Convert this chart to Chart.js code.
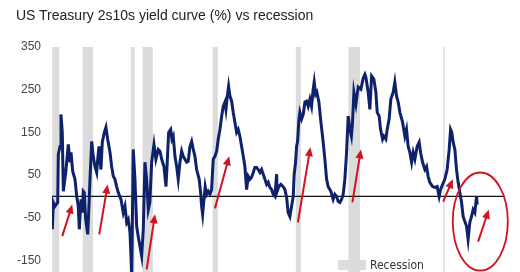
<!DOCTYPE html>
<html>
<head>
<meta charset="utf-8">
<script src="https://cdn.jsdelivr.net/npm/chart.js@4.4.1/dist/chart.umd.min.js"></script>
<style>
  body { margin: 0; overflow: hidden; background: #fff; }
  #wrap { position: relative; width: 520px; height: 300px; }
  #sub { position: absolute; left: 16px; top: 6px; font: 14px "Liberation Sans", Arial, sans-serif; color: #222; line-height: 18px; white-space: nowrap; }
</style>
</head>
<body>
<div id="wrap">
  <canvas id="myChart"></canvas>
  <div id="sub">US Treasury 2s10s yield curve (%) vs recession</div>
</div>
<script>
// 2s10s spread (bp), by decimal year
const years = [
  1969.94, 1970.07, 1970.28, 1970.63, 1970.71, 1970.93, 1971.05, 1971.22, 1971.35, 1971.66,
  1971.99, 1972.21, 1972.34, 1972.55, 1972.85, 1973.07, 1973.27, 1973.40, 1973.62, 1973.78,
  1973.91, 1974.04, 1974.22, 1974.48, 1974.64, 1974.77, 1974.99, 1975.19, 1975.41, 1975.63,
  1975.76, 1975.93, 1976.18, 1976.35, 1976.61, 1976.82, 1977.04, 1977.34, 1977.55, 1977.76,
  1977.98, 1978.19, 1978.40, 1978.75, 1979.04, 1979.26, 1979.48, 1979.68, 1979.90, 1980.03,
  1980.12, 1980.32, 1980.54, 1980.76, 1980.96, 1981.18, 1981.40, 1981.61, 1981.82, 1982.04,
  1982.25, 1982.45, 1982.68, 1982.98, 1983.23, 1983.53, 1983.75, 1983.97, 1984.26, 1984.52,
  1984.68, 1984.86, 1985.12, 1985.28, 1985.45, 1985.67, 1985.89, 1986.09, 1986.31, 1986.53,
  1986.73, 1986.95, 1987.17, 1987.37, 1987.59, 1987.81, 1988.02, 1988.23, 1988.45, 1988.78,
  1988.96, 1989.09, 1989.22, 1989.39, 1989.55, 1989.73, 1989.94, 1990.16, 1990.37, 1990.58,
  1990.80, 1991.02, 1991.22, 1991.44, 1991.66, 1991.86, 1992.08, 1992.21, 1992.37, 1992.55,
  1992.72, 1992.94, 1993.14, 1993.36, 1993.58, 1993.78, 1994.00, 1994.22, 1994.43, 1994.64,
  1994.86, 1995.07, 1995.28, 1995.50, 1995.71, 1995.92, 1996.14, 1996.35, 1996.57, 1996.78,
  1996.99, 1997.21, 1997.43, 1997.63, 1997.85, 1998.07, 1998.27, 1998.49, 1998.71, 1998.78,
  1998.99, 1999.26, 1999.55, 1999.77, 1999.99, 2000.19, 2000.41, 2000.63, 2000.84, 2000.96,
  2001.14, 2001.27, 2001.40, 2001.57, 2001.69, 2001.91, 2002.12, 2002.34, 2002.55, 2002.76,
  2002.98, 2003.19, 2003.40, 2003.53, 2003.71, 2003.87, 2004.13, 2004.39, 2004.64, 2004.90,
  2005.12, 2005.32, 2005.67, 2005.96, 2006.18, 2006.40, 2006.61, 2006.82, 2007.04, 2007.25,
  2007.46, 2007.68, 2007.89, 2008.11, 2008.30, 2008.43, 2008.62, 2008.88, 2009.17, 2009.52,
  2009.81, 2010.03, 2010.16, 2010.45, 2010.67, 2010.89, 2011.18, 2011.44, 2011.61, 2011.86,
  2012.04, 2012.30, 2012.46, 2012.72, 2012.89, 2013.14, 2013.36, 2013.66, 2013.87, 2014.09,
  2014.30, 2014.52, 2014.86, 2015.16, 2015.37, 2015.58, 2015.80, 2016.02, 2016.22, 2016.44,
  2016.73, 2016.99, 2017.17, 2017.43, 2017.72, 2017.94, 2018.14, 2018.36, 2018.71, 2019.00,
  2019.30, 2019.55, 2019.73, 2019.99, 2020.28, 2020.58, 2020.84, 2021.02, 2021.18, 2021.35,
  2021.57, 2021.78, 2021.99, 2022.21, 2022.43, 2022.63, 2022.85, 2023.07, 2023.27, 2023.49,
  2023.71, 2023.91, 2024.13, 2024.35, 2024.43
]
const spread = [
  -77, -14, -23, -14, 99, 117, 192, 150, 12, 56,
  122, 80, 103, 59, 40, 0, -23, -77, -7, -38,
  12, 9, -54, -89, -23, 40, 129, 94, 70, 56,
  87, 117, 63, 127, 150, 162, 134, 103, 70, 47,
  40, 23, 9, -7, -38, -23, -61, -54, -84, -141,
  -190, 110, 40, -70, -94, -117, -140, -77, 80, 40,
  -31, -14, 80, 122, 87, 110, 106, 87, 70, 23,
  80, 150, 157, 134, 141, 94, 70, 40, 80, 106,
  94, 87, 80, 82, 117, 129, 110, 94, 63, 40,
  9, -23, -42, -7, 23, 5, 12, 5, 16, 87,
  94, 106, 134, 157, 188, 211, 221, 204, 232, 258,
  235, 223, 197, 174, 150, 157, 141, 117, 94, 70,
  16, 47, 40, 45, 56, 68, 68, 63, 56, 63,
  52, 40, 28, 33, 21, 16, 5, 0, 52, 12,
  23, 28, 23, 16, -2, -38, -47, -23, 0, 52,
  80, 117, 129, 181, 197, 181, 192, 221, 223, 211,
  228, 211, 251, 268, 239, 244, 221, 174, 134, 87,
  40, 23, 12, -7, 5, 0, -12, -14, -7, 5,
  40, 103, 188, 157, 141, 169, 244, 216, 256, 251,
  277, 286, 279, 244, 204, 282, 275, 244, 197, 188,
  157, 134, 141, 134, 157, 181, 228, 244, 268, 235,
  221, 197, 174, 141, 157, 117, 103, 80, 103, 87,
  117, 127, 103, 80, 63, 70, 47, 33, 23, 21,
  23, 0, 16, 28, 40, 63, 110, 157, 150, 127,
  110, 63, 33, 9, -14, -47, -59, -70, -101, -61,
  -47, -31, -38, 0, -19
]

// US recessions (start, end)
const recStart = [1969.92, 1973.83, 1980.0, 1981.5, 1990.5, 2001.17, 2007.92, 2020.08]
const recEnd = [1970.83, 1975.17, 1980.5, 1982.83, 1991.17, 2001.83, 2009.42, 2020.25]

const yTicks = [-150, -50, 50, 150, 250, 350]

// red arrows drawn on the chart (tail -> head)
const arrowFromX = [1971.22, 1975.96, 1982.04, 1990.80, 2001.44, 2008.43, 2020.07, 2024.55]
const arrowFromY = [-93, -89, -171, -28, -61, -14, -12, -106]
const arrowToX = [1972.50, 1977.04, 1983.11, 1992.63, 2003.04, 2009.52, 2021.31, 2025.92]
const arrowToY = [-19, 28, -42, 94, 115, 110, 40, -31]

// circle round the latest inversion
const ring = { x: 2024.83, y: -59, rx: 3.53, ry: 115 }

let lineColor = '#0e226c'
let bandColor = '#dcdcdc'
let red = '#cf1420'

const xMin = 1969.9
const xMax = 2028

const bands = {
  id: 'bands',
  beforeDatasetsDraw(chart) {
    const { ctx, chartArea, scales: { x } } = chart
    ctx.save()
    ctx.fillStyle = bandColor
    for (let i = 0; i < recStart.length; i++) {
      let x0 = x.getPixelForValue(recStart[i])
      let x1 = x.getPixelForValue(recEnd[i])
      ctx.fillRect(x0, chartArea.top, Math.max(x1 - x0, 1.5), chartArea.bottom - chartArea.top)
    }
    ctx.restore()
  }
}

const notes = {
  id: 'notes',
  afterDatasetsDraw(chart) {
    const { ctx, scales: { x, y } } = chart
    ctx.save()
    ctx.strokeStyle = red
    ctx.fillStyle = red
    ctx.lineWidth = 2
    for (let i = 0; i < arrowFromX.length; i++) {
      let x0 = x.getPixelForValue(arrowFromX[i])
      let y0 = y.getPixelForValue(arrowFromY[i])
      let x1 = x.getPixelForValue(arrowToX[i])
      let y1 = y.getPixelForValue(arrowToY[i])
      let ang = Math.atan2(y1 - y0, x1 - x0)
      let hl = 9, hw = 4
      ctx.beginPath()
      ctx.moveTo(x0, y0)
      ctx.lineTo(x1 - Math.cos(ang) * hl * 0.8, y1 - Math.sin(ang) * hl * 0.8)
      ctx.stroke()
      ctx.beginPath()
      ctx.moveTo(x1, y1)
      ctx.lineTo(x1 - Math.cos(ang) * hl - Math.sin(ang) * hw, y1 - Math.sin(ang) * hl + Math.cos(ang) * hw)
      ctx.lineTo(x1 - Math.cos(ang) * hl + Math.sin(ang) * hw, y1 - Math.sin(ang) * hl - Math.cos(ang) * hw)
      ctx.closePath()
      ctx.fill()
    }
    // ring
    let cx = x.getPixelForValue(ring.x)
    let cy = y.getPixelForValue(ring.y)
    let rx = x.getPixelForValue(ring.x + ring.rx) - cx
    let ry = cy - y.getPixelForValue(ring.y + ring.ry)
    ctx.lineWidth = 1.8
    ctx.beginPath()
    ctx.ellipse(cx, cy, rx, ry, 0, 0, Math.PI * 2)
    ctx.stroke()
    ctx.restore()
  },
  afterDraw(chart) {
    // legend: recession swatch
    const ctx = chart.ctx
    ctx.save()
    ctx.fillStyle = bandColor
    ctx.fillRect(338, 260, 28, 10)
    ctx.fillStyle = '#333'
    ctx.font = '12px "Liberation Sans Narrow", "DejaVu Sans Condensed", Arial, sans-serif'
    ctx.textBaseline = 'middle'
    ctx.fillText('Recession', 370, 265.5)
    ctx.restore()
  }
}

const data = {
  datasets: [
    {
      label: '2s10s',
      data: years.map((v, i) => ({ x: v, y: spread[i] })),
      borderColor: lineColor,
      borderWidth: 3,
      pointRadius: 0,
      tension: 0,
      order: 0
    },
    {
      label: 'zero',
      data: [{ x: xMin, y: 0 }, { x: xMax, y: 0 }],
      borderColor: '#111',
      borderWidth: 1.2,
      pointRadius: 0,
      order: 1
    }
  ]
}

const config = {
  type: 'line',
  data: data,
  options: {
    responsive: true,
    maintainAspectRatio: false,
    animation: false,
    layout: { padding: { top: 47, right: 15, bottom: 18, left: 0 } },
    plugins: {
      legend: { display: false },
      tooltip: { enabled: false },
      title: { display: false }
    },
    scales: {
      x: {
        type: 'linear',
        min: xMin,
        max: xMax,
        display: false
      },
      y: {
        min: -200,
        max: 350,
        afterBuildTicks: (scale) => { scale.ticks = yTicks.map(v => ({ value: v })) },
        afterFit: (scale) => { scale.width = 52 },
        grid: { display: false, drawTicks: false },
        border: { display: false },
        ticks: {
          padding: 11,
          color: '#444',
          font: { family: '"Liberation Sans", Arial, sans-serif', size: 12 }
        }
      }
    }
  },
  plugins: [bands, notes]
}

const myChart = new Chart(document.getElementById('myChart'), config)
</script>
</body>
</html>
